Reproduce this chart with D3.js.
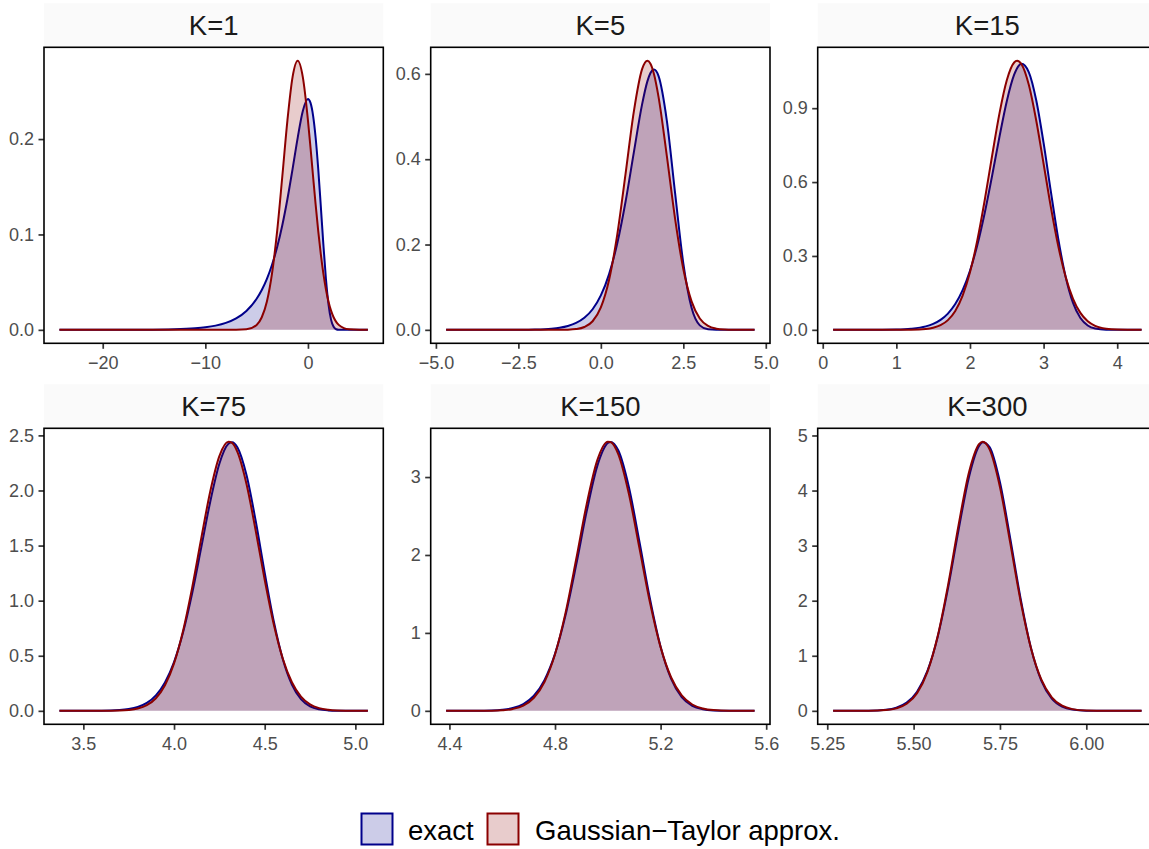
<!DOCTYPE html>
<html><head><meta charset="utf-8">
<script src="https://cdn.jsdelivr.net/npm/d3@7"></script>
<style>
html,body{margin:0;padding:0;background:#fff;}
svg{display:block;font-family:"Liberation Sans",Arial,Helvetica,sans-serif;}
</style></head><body>
<svg id="chart" width="1149" height="849"></svg>
<script>
// ---------- data ----------
const panelLabels = ["K=1", "K=5", "K=15", "K=75", "K=150", "K=300"];
const seriesNames = ["exact", "Gaussian\u2212Taylor approx."];

const x_K1 = [-24.22, -20, -16, -13, -11, -10, -9, -8, -7, -6, -5, -4.5, -4, -3.5, -3, -2.5, -2, -1.5, -1, -0.5, 0, 0.25, 0.5, 0.75, 1, 1.25, 1.5, 1.75, 2, 2.25, 2.5, 2.75, 3, 3.5, 4, 5, 5.84];
const exact_K1 = [0.000002, 0.000018, 0.000134, 0.0006, 0.00163, 0.00269, 0.00443, 0.00731, 0.01204, 0.01984, 0.03264, 0.04182, 0.0535, 0.06829, 0.08683, 0.1097, 0.13715, 0.16856, 0.20132, 0.22942, 0.24197, 0.23789, 0.22463, 0.2014, 0.16897, 0.13014, 0.08983, 0.05387, 0.02696, 0.0107, 0.00315, 0.00063, 0.00008, 0, 0, 0, 0];
const approx_K1 = [0, 0, 0, 0, 0, 0, 0, 0.0000014, 0.0000348, 0.000545, 0.005167, 0.013194, 0.029732, 0.059129, 0.103775, 0.16073, 0.21969, 0.265, 0.28209, 0.265, 0.21969, 0.190871, 0.16073, 0.131184, 0.103775, 0.079567, 0.059129, 0.042586, 0.029732, 0.020117, 0.013194, 0.008387, 0.005167, 0.001786, 0.000545, 0.000035, 0.000002];

const x_K5 = [-4.69, -4, -3, -2.5, -2, -1.5, -1.25, -1, -0.75, -0.5, -0.25, 0, 0.25, 0.5, 0.75, 1, 1.25, 1.41, 1.5, 1.61, 1.75, 2, 2.25, 2.5, 2.75, 3, 3.25, 3.5, 3.75, 4, 4.66];
const exact_K5 = [0.000001, 0.000006, 0.000072, 0.000246, 0.000837, 0.002797, 0.005062, 0.009081, 0.016103, 0.028131, 0.048219, 0.080653, 0.130733, 0.203527, 0.30086, 0.416136, 0.528468, 0.582406, 0.601434, 0.61018, 0.594582, 0.490601, 0.320966, 0.155853, 0.051612, 0.010455, 0.001127, 0.000054, 0.000001, 0, 0];
const approx_K5 = [0, 0, 0, 0, 0, 0.000016, 0.000091, 0.000445, 0.001855, 0.006615, 0.020188, 0.052654, 0.117505, 0.224328, 0.366269, 0.511528, 0.611051, 0.63078, 0.624347, 0.599848, 0.545652, 0.407907, 0.260804, 0.142636, 0.066733, 0.026698, 0.009139, 0.002674, 0.000669, 0.000143, 0.000001];

const x_K15 = [0.141, 0.6, 1.0, 1.2, 1.4, 1.5, 1.6, 1.7, 1.8, 1.9, 2.0, 2.1, 2.2, 2.3, 2.4, 2.5, 2.6, 2.64, 2.7, 2.8, 2.9, 3.0, 3.1, 3.2, 3.3, 3.4, 3.5, 3.6, 3.7, 3.85, 4.0, 4.331];
const exact_K15 = [0.000005, 0.000107, 0.00137, 0.004547, 0.014109, 0.024137, 0.040361, 0.065861, 0.104558, 0.161034, 0.239867, 0.344314, 0.47444, 0.624882, 0.783032, 0.928467, 1.035841, 1.062308, 1.08024, 1.045739, 0.932402, 0.759054, 0.55885, 0.368187, 0.214559, 0.109157, 0.047804, 0.017733, 0.005478, 0.00064, 0.000044, 0];
const approx_K15 = [0, 0, 0.000045, 0.00045, 0.003378, 0.008297, 0.018714, 0.039376, 0.076809, 0.139099, 0.233607, 0.364024, 0.526222, 0.705758, 0.878112, 1.013651, 1.085558, 1.09255, 1.078562, 0.994179, 0.850185, 0.674485, 0.496467, 0.339025, 0.214777, 0.126232, 0.06883, 0.034832, 0.016345, 0.004564, 0.001076, 0.000024];

const x_K75 = [3.368, 3.6, 3.7, 3.75, 3.8, 3.85, 3.9, 3.95, 4.0, 4.05, 4.1, 4.15, 4.2, 4.25, 4.3, 4.32, 4.35, 4.4, 4.45, 4.5, 4.55, 4.6, 4.65, 4.7, 4.75, 4.8, 4.85, 4.9, 5.0, 5.069];
const exact_K75 = [0.000008, 0.001098, 0.006813, 0.015761, 0.034549, 0.071622, 0.140011, 0.257306, 0.443134, 0.712813, 1.067201, 1.481717, 1.900375, 2.24229, 2.4237, 2.4376, 2.389274, 2.137866, 1.727584, 1.254406, 0.813871, 0.469108, 0.238767, 0.106618, 0.041503, 0.01398, 0.004044, 0.000998, 0.000036, 0];
const approx_K75 = [0, 0.000224, 0.002604, 0.007715, 0.020814, 0.051088, 0.114231, 0.232521, 0.431174, 0.727727, 1.118261, 1.564695, 1.993437, 2.31233, 2.44222, 2.43153, 2.348591, 2.05645, 1.639492, 1.190066, 0.786584, 0.47336, 0.259389, 0.129394, 0.058767, 0.024313, 0.009154, 0.003139, 0.000279, 0.00004];

const x_K150 = [4.3875, 4.5, 4.56, 4.6, 4.64, 4.68, 4.72, 4.76, 4.8, 4.84, 4.88, 4.92, 4.96, 5.0, 5.01, 5.04, 5.08, 5.12, 5.16, 5.2, 5.24, 5.28, 5.32, 5.36, 5.4, 5.46, 5.556];
const exact_K150 = [0.000022, 0.00085, 0.004743, 0.013552, 0.03575, 0.086806, 0.193362, 0.393753, 0.730387, 1.229144, 1.869592, 2.55915, 3.139683, 3.436533, 3.4511, 3.340246, 2.869225, 2.167239, 1.431817, 0.822829, 0.409043, 0.174861, 0.063884, 0.019815, 0.005183, 0.000498, 0];
const approx_K150 = [0, 0.00025, 0.002128, 0.007597, 0.024036, 0.067479, 0.167903, 0.37075, 0.725897, 1.260586, 1.941477, 2.652187, 3.213363, 3.452898, 3.450228, 3.290779, 2.781706, 2.085356, 1.386637, 0.817709, 0.427791, 0.198411, 0.08163, 0.029789, 0.009639, 0.001417, 0.000038];

const x_K300 = [5.267, 5.37, 5.42, 5.45, 5.48, 5.51, 5.54, 5.57, 5.6, 5.63, 5.66, 5.69, 5.7, 5.72, 5.75, 5.78, 5.81, 5.84, 5.87, 5.9, 5.93, 5.96, 6.0, 6.06, 6.16];
const exact_K300 = [0.00002, 0.002704, 0.019822, 0.057242, 0.148848, 0.347491, 0.725766, 1.351742, 2.237307, 3.278577, 4.238233, 4.814567, 4.878077, 4.787379, 4.150007, 3.123086, 2.031647, 1.137375, 0.54546, 0.223035, 0.077398, 0.02267, 0.003359, 0.000104, 0];
const approx_K300 = [0, 0.001355, 0.013393, 0.044248, 0.127612, 0.321701, 0.708615, 1.363568, 2.292498, 3.367421, 4.321785, 4.846175, 4.88603, 4.747962, 4.064285, 3.039954, 1.986332, 1.134058, 0.565716, 0.246566, 0.093891, 0.031236, 0.005834, 0.0003, 0];

// tick values and labels
const xTicks_K1 = [-20, -10, 0];          const xLabels_K1 = ["\u221220", "\u221210", "0"];
const yTicks_K1 = [0, 0.1, 0.2];          const yLabels_K1 = ["0.0", "0.1", "0.2"];
const xTicks_K5 = [-5, -2.5, 0, 2.5, 5];  const xLabels_K5 = ["\u22125.0", "\u22122.5", "0.0", "2.5", "5.0"];
const yTicks_K5 = [0, 0.2, 0.4, 0.6];     const yLabels_K5 = ["0.0", "0.2", "0.4", "0.6"];
const xTicks_K15 = [0, 1, 2, 3, 4];       const xLabels_K15 = ["0", "1", "2", "3", "4"];
const yTicks_K15 = [0, 0.3, 0.6, 0.9];    const yLabels_K15 = ["0.0", "0.3", "0.6", "0.9"];
const xTicks_K75 = [3.5, 4, 4.5, 5];      const xLabels_K75 = ["3.5", "4.0", "4.5", "5.0"];
const yTicks_K75 = [0, 0.5, 1, 1.5, 2, 2.5]; const yLabels_K75 = ["0.0", "0.5", "1.0", "1.5", "2.0", "2.5"];
const xTicks_K150 = [4.4, 4.8, 5.2, 5.6]; const xLabels_K150 = ["4.4", "4.8", "5.2", "5.6"];
const yTicks_K150 = [0, 1, 2, 3];         const yLabels_K150 = ["0", "1", "2", "3"];
const xTicks_K300 = [5.25, 5.5, 5.75, 6]; const xLabels_K300 = ["5.25", "5.50", "5.75", "6.00"];
const yTicks_K300 = [0, 1, 2, 3, 4, 5];   const yLabels_K300 = ["0", "1", "2", "3", "4", "5"];

// ---------- build table ----------
const panels = [
  {label: panelLabels[0], x: x_K1, exact: exact_K1, approx: approx_K1, xt: xTicks_K1, xl: xLabels_K1, yt: yTicks_K1, yl: yLabels_K1},
  {label: panelLabels[1], x: x_K5, exact: exact_K5, approx: approx_K5, xt: xTicks_K5, xl: xLabels_K5, yt: yTicks_K5, yl: yLabels_K5},
  {label: panelLabels[2], x: x_K15, exact: exact_K15, approx: approx_K15, xt: xTicks_K15, xl: xLabels_K15, yt: yTicks_K15, yl: yLabels_K15},
  {label: panelLabels[3], x: x_K75, exact: exact_K75, approx: approx_K75, xt: xTicks_K75, xl: xLabels_K75, yt: yTicks_K75, yl: yLabels_K75},
  {label: panelLabels[4], x: x_K150, exact: exact_K150, approx: approx_K150, xt: xTicks_K150, xl: xLabels_K150, yt: yTicks_K150, yl: yLabels_K150},
  {label: panelLabels[5], x: x_K300, exact: exact_K300, approx: approx_K300, xt: xTicks_K300, xl: xLabels_K300, yt: yTicks_K300, yl: yLabels_K300}
];

// ---------- layout / style ----------
const colX = [44, 430.7, 817.7], rowY = [47.3, 428.3];
const PW = 339.3, PH = 296, SH = 44;
const seriesColors = ["#00008B", "#8B0000"];

const svg = d3.select("#chart");
svg.append("rect").attr("width", 1149).attr("height", 849).attr("fill", "#fff");

panels.forEach((p, i) => {
  const c = i % 3, r = Math.floor(i / 3);
  const x0 = colX[c], y0 = rowY[r];

  // strip
  svg.append("rect").attr("x", x0).attr("y", y0 - SH).attr("width", PW).attr("height", SH).attr("fill", "#FAFAFA");
  svg.append("text").attr("x", x0 + PW / 2).attr("y", y0 - SH / 2).attr("dy", "0.36em")
    .attr("text-anchor", "middle").attr("font-size", 27.5).attr("fill", "#1A1A1A").text(p.label);

  const g = svg.append("g").attr("transform", `translate(${x0},${y0})`);
  const [xmin, xmax] = d3.extent(p.x);
  const dx = (xmax - xmin) * 0.05;
  const xs = d3.scaleLinear().domain([xmin - dx, xmax + dx]).range([0, PW]);
  const M = d3.max(p.exact.concat(p.approx));
  const ys = d3.scaleLinear().domain([-0.05 * M, 1.05 * M]).range([PH, 0]);

  const area = d3.area().x(d => xs(d[0])).y0(ys(0)).y1(d => ys(d[1])).curve(d3.curveMonotoneX);
  const line = d3.line().x(d => xs(d[0])).y(d => ys(d[1])).curve(d3.curveMonotoneX);

  [p.exact, p.approx].forEach((vals, s) => {
    const pts = p.x.map((v, j) => [v, vals[j]]);
    g.append("path").attr("d", area(pts)).attr("fill", seriesColors[s]).attr("fill-opacity", 0.2);
    g.append("path").attr("d", line(pts)).attr("fill", "none").attr("stroke", seriesColors[s])
      .attr("stroke-width", 2).attr("stroke-linejoin", "round");
  });

  // axes
  const xa = d3.axisBottom(xs).tickValues(p.xt).tickFormat((d, k) => p.xl[k]).tickSize(5.5).tickPadding(7.5);
  const ya = d3.axisLeft(ys).tickValues(p.yt).tickFormat((d, k) => p.yl[k]).tickSize(5.5).tickPadding(4.5);
  const gx = g.append("g").attr("transform", `translate(0,${PH})`).call(xa);
  const gy = g.append("g").call(ya);
  [gx, gy].forEach(a => {
    a.select(".domain").remove();
    a.selectAll(".tick line").attr("stroke", "#333333").attr("stroke-width", 1.7);
    a.selectAll(".tick text").attr("fill", "#4D4D4D").attr("font-size", 18)
      .attr("font-family", '"Liberation Sans",Arial,Helvetica,sans-serif');
  });

  // panel border
  g.append("rect").attr("width", PW).attr("height", PH).attr("fill", "none")
    .attr("stroke", "#000").attr("stroke-width", 1.6);
});

// ---------- legend ----------
const legendKeyX = [361.5, 487.5];
const legendTextX = [408, 535];
seriesNames.forEach((name, s) => {
  svg.append("rect").attr("x", legendKeyX[s]).attr("y", 813.5).attr("width", 31).attr("height", 31)
    .attr("fill", seriesColors[s]).attr("fill-opacity", 0.2)
    .attr("stroke", seriesColors[s]).attr("stroke-width", 2);
  svg.append("text").attr("x", legendTextX[s]).attr("y", 839.5).attr("font-size", 27.5)
    .attr("fill", "#000").text(name);
});
</script>
</body></html>
